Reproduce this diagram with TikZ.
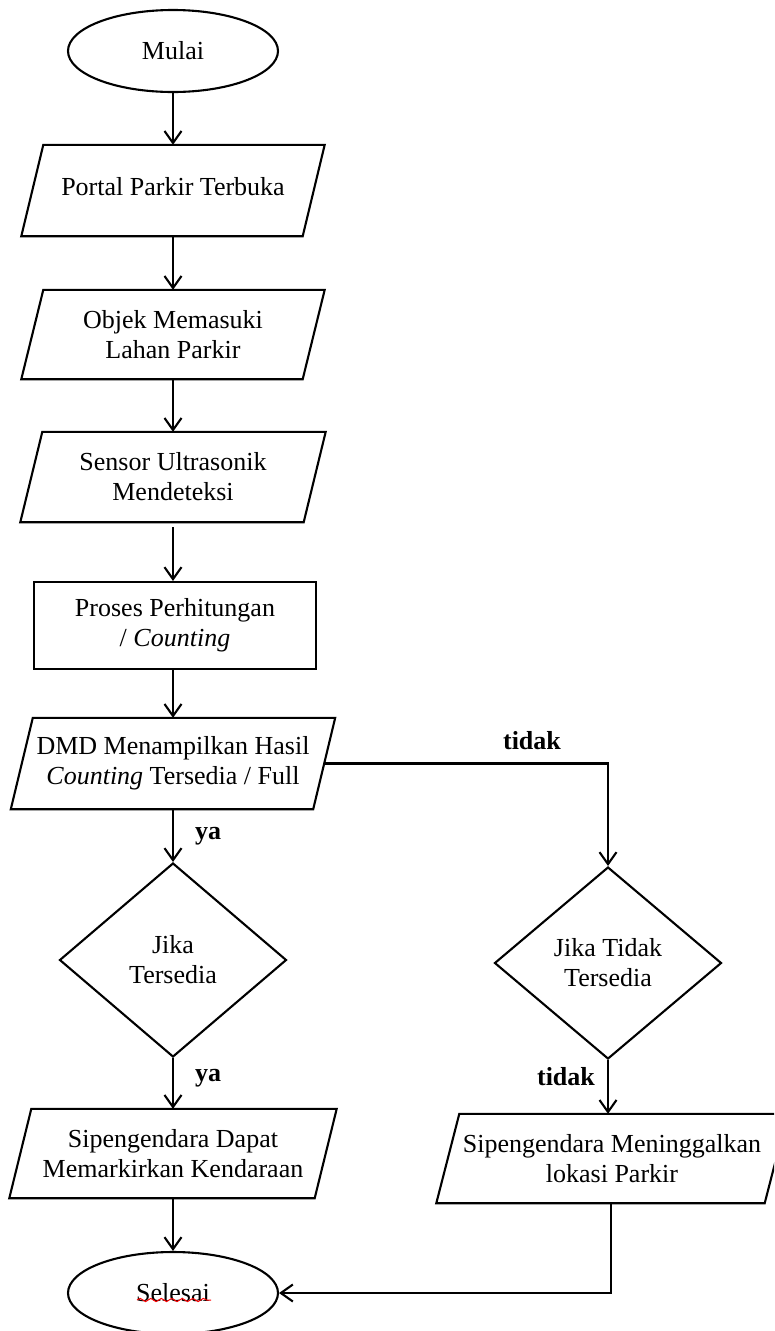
\documentclass[tikz,border=0pt]{standalone}
\usepackage{fontspec}
\setmainfont{Liberation Serif}
\usetikzlibrary{shapes.geometric,arrows.meta,calc,decorations.pathmorphing}
\tikzset{
  txt/.style={font=\fontsize{26pt}{30pt}\selectfont, align=center, inner sep=0pt},
  lbl/.style={font=\fontsize{26pt}{30pt}\selectfont\bfseries, inner sep=0pt},
  parabox/.style={txt, rectangle, draw=none},
  procbox/.style={txt, rectangle, draw, line width=2.1pt},
  oval/.style={txt, ellipse, draw, line width=2.1pt, minimum width=210pt, minimum height=82pt},
  decide/.style={txt, diamond, draw, line width=2.1pt},
  edge/.style={line width=2.1pt},
  arr/.style={line width=2.1pt, -{Straight Barb[length=12pt,width=17pt,line width=2.1pt]}}
}
\begin{document}
\begin{tikzpicture}[x=1pt,y=-1pt]
\useasboundingbox (0,0) rectangle (774,1331);
\clip (0,0) rectangle (774,1331);
\fill[white] (0,0) rectangle (774,1331);

\node[oval] (mulai) at (173,51) {Mulai};
\node[parabox, minimum width=281pt, minimum height=91pt] (portal) at (173,190.5) {\raisebox{8pt}{Portal Parkir Terbuka}};
\node[parabox, minimum width=281pt, minimum height=89pt] (objek) at (173,334.5) {Objek Memasuki\\Lahan Parkir};
\node[parabox, minimum width=283pt, minimum height=90pt] (sensor) at (173,477) {Sensor Ultrasonik\\Mendeteksi};
\node[procbox, minimum width=282pt, minimum height=87pt] (proses) at (175,625.5) {Proses Perhitungan\\/ \textit{Counting}};
\node[parabox, minimum width=302pt, minimum height=91pt] (dmd) at (173,763.5) {DMD Menampilkan Hasil\\\textit{Counting} Tersedia / Full};
\node[decide, minimum width=227pt, minimum height=194pt] (d1) at (173,960) {Jika\\Tersedia};
\node[decide, minimum width=227pt, minimum height=192pt] (d2) at (608,963) {Jika Tidak\\Tersedia};
\node[parabox, minimum width=305pt, minimum height=89pt] (s1) at (173,1153.5) {Sipengendara Dapat\\Memarkirkan Kendaraan};
\node[parabox, minimum width=328pt, minimum height=89pt] (s2) at (612,1158.5) {Sipengendara Meninggalkan\\lokasi Parkir};
\node[oval] (sel) at (173,1293) {Selesai};

\foreach \n/\s in {portal/11, objek/11, sensor/11, dmd/11, s1/11, s2/11.5}
  \draw[edge, line join=miter] ([xshift=-\s pt]\n.south west) -- ([xshift=-\s pt]\n.south east)
    -- ([xshift=\s pt]\n.north east) -- ([xshift=\s pt]\n.north west) -- cycle;

\draw[red, line width=1pt, decorate, decoration={snake, segment length=10.5pt, amplitude=1.6pt}]
  ($(sel.center)+(-36,7)$) -- ($(sel.center)+(38,7)$);

\draw[arr] (mulai) -- (portal);
\draw[arr] (portal) -- (objek);
\draw[arr] (objek) -- (sensor);
\draw[arr] ([yshift=-5pt]sensor.south) -- (sensor.south |- proses.north);
\draw[arr] (proses.south -| dmd.north) -- (dmd.north);
\draw[arr] (dmd) -- (d1);
\draw[arr] (d1) -- (s1);
\draw[arr] (s1) -- (sel);
\draw[arr] (dmd.east) -| (d2.north);
\draw[arr] (d2.south) -- (d2.south |- s2.north);
\draw[arr] ([xshift=-1pt]s2.south) |- (sel.east);

\node[lbl] (ya1) at (208,836) {ya};
\node[lbl] (tidak1) at (532,741) {tidak};
\node[lbl] (ya2) at (208,1078) {ya};
\node[lbl] (tidak2) at (566,1077) {tidak};
\end{tikzpicture}
\end{document}
